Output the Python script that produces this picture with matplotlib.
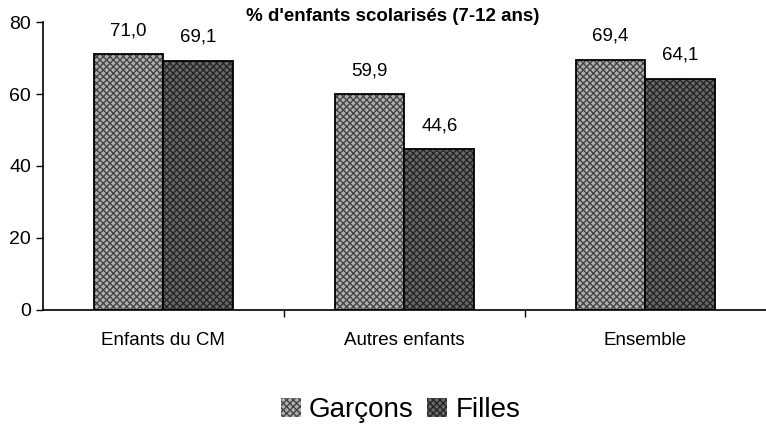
import matplotlib.pyplot as plt
import numpy as np

plt.rcParams['font.family'] = ['Liberation Sans', 'DejaVu Sans']
plt.rcParams['hatch.linewidth'] = 1.0

categories = ['Enfants du CM', 'Autres enfants', 'Ensemble']
garcons = [71.0, 59.9, 69.4]
filles = [69.1, 44.6, 64.1]
series = ['Garçons', 'Filles']

fig = plt.figure(figsize=(7.66, 4.24), dpi=100)
ax = fig.add_axes([0.056, 0.269, 0.944, 0.679])

x = np.arange(len(categories))
w = 0.29
styles = [('#b0b0b0', '#444444'), ('#686868', '#262626')]
containers = []
for k, (vals, (fc, hc)) in enumerate(zip([garcons, filles], styles)):
    pos = x + (k - 0.5) * w
    c = ax.bar(pos, vals, w, color=fc, edgecolor=hc, hatch='xxxxx', linewidth=0, label=series[k])
    ax.bar(pos, vals, w, fill=False, edgecolor='black', linewidth=1.3)
    containers.append(c)
    for p, v in zip(pos, vals):
        ax.annotate(f'{v:.1f}'.replace('.', ','), (p, v), xytext=(0, 11), textcoords='offset points',
                    ha='center', va='bottom', fontsize=13.5)

ax.set_xlim(-0.5, 2.5)
ax.set_ylim(0, 80)
ax.set_yticks([0, 20, 40, 60, 80])
ax.tick_params(axis='y', labelsize=14, direction='out', length=5, width=1)
ax.set_xticks([0.5, 1.5])
ax.set_xticklabels([])
ax.tick_params(axis='x', direction='out', length=5, width=1)
for i, c in enumerate(categories):
    ax.text(i, -8.5, c, ha='center', va='center', fontsize=13.5)

ax.spines['top'].set_visible(False)
ax.spines['right'].set_visible(False)
ax.spines['left'].set_linewidth(1.2)
ax.spines['bottom'].set_linewidth(1.2)

fig.text(0.512, 0.962, "% d'enfants scolarisés (7-12 ans)", ha='center', va='center',
         fontsize=13.5, fontweight='bold')

fig.legend(handles=containers, labels=series, loc='center', bbox_to_anchor=(0.523, 0.032),
           ncol=2, frameon=False, fontsize=20, handlelength=0.7, handleheight=0.7,
           handletextpad=0.3, columnspacing=0.5)

fig.savefig('out.png', dpi=100)
